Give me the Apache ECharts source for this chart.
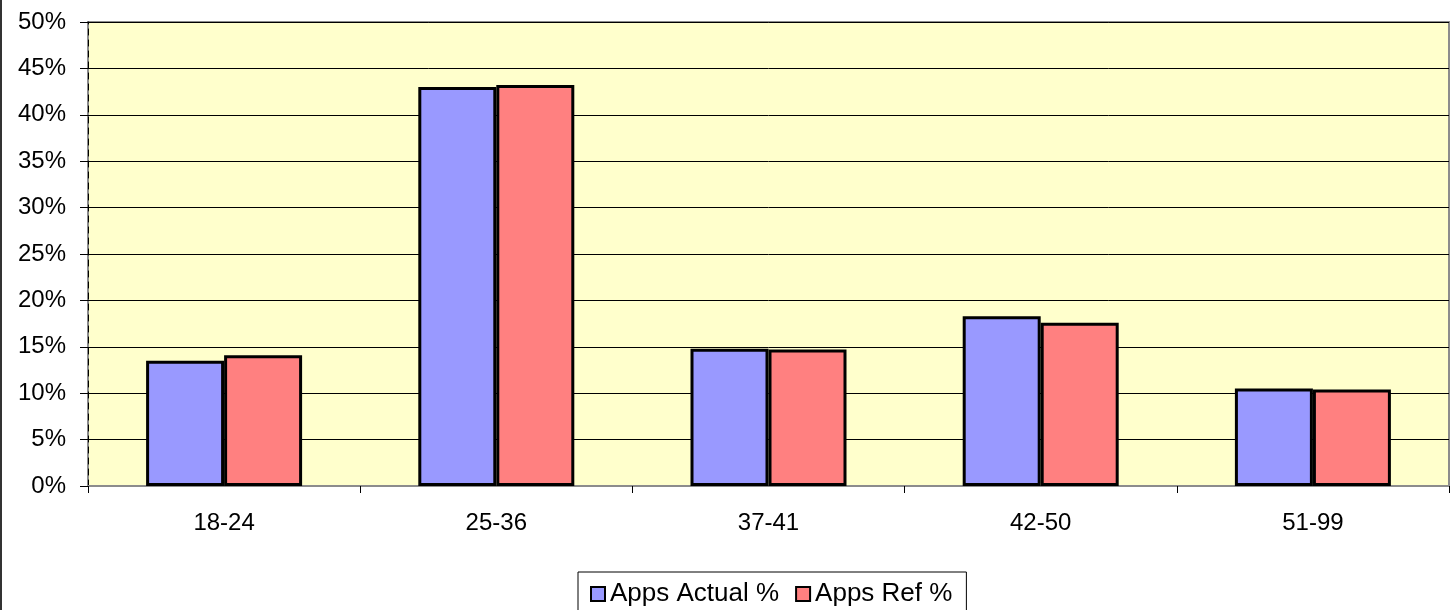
<!DOCTYPE html>
<html>
<head>
<meta charset="utf-8">
<script src="https://cdn.jsdelivr.net/npm/echarts@6/dist/echarts.min.js"></script>
<style>
html,body{margin:0;padding:0;background:#fff;}
#chart{width:1450px;height:610px;}
</style>
</head>
<body>
<div id="chart"></div>
<script>
var categories = ['18-24', '25-36', '37-41', '42-50', '51-99'];
var appsActual = [13.5, 43.0, 14.8, 18.3, 10.5];
var appsRef = [14.1, 43.2, 14.7, 17.6, 10.4];
var seriesNames = ['Apps Actual %', 'Apps Ref %'];

var chart = echarts.init(document.getElementById('chart'));
var font = 'Liberation Sans, Arial, sans-serif';
chart.setOption({
  animation: false,
  backgroundColor: '#ffffff',
  textStyle: {fontFamily: font},
  grid: {
    left: 88, right: 1, top: 22, bottom: 124,
    show: true, backgroundColor: '#FFFFCC', borderColor: '#8c8c8c', borderWidth: 2,
    containLabel: false
  },
  legend: {
    data: seriesNames,
    top: 572, left: 578,
    itemWidth: 14, itemHeight: 14, itemGap: 16,
    icon: 'rect',
    borderColor: '#000', borderWidth: 1, padding: [9, 14, 12, 12],
    textStyle: {fontSize: 26, color: '#000', fontFamily: font, padding: [0, 0, 0, 0]}
  },
  xAxis: {
    type: 'category',
    data: categories,
    axisLine: {show: true, lineStyle: {color: '#8c8c8c', width: 2}},
    axisTick: {show: true, length: 7, lineStyle: {color: '#000'}},
    axisLabel: {fontSize: 24, color: '#000', margin: 25, fontFamily: font},
    splitLine: {show: false}
  },
  yAxis: {
    type: 'value',
    min: 0, max: 50, interval: 5,
    axisLine: {show: true, lineStyle: {color: '#000', width: 1, type: [6, 5]}},
    axisTick: {show: true, length: 8, inside: false, lineStyle: {color: '#000'}},
    axisLabel: {formatter: '{value}%', fontSize: 24, color: '#000', margin: 22, fontFamily: font},
    splitLine: {show: true, lineStyle: {color: '#000', width: 1}}
  },
  series: [
    {
      name: seriesNames[0], type: 'bar', data: appsActual,
      barWidth: 78, barGap: '0%',
      itemStyle: {color: '#9999FF', borderColor: '#000', borderWidth: 3}
    },
    {
      name: seriesNames[1], type: 'bar', data: appsRef,
      barWidth: 78,
      itemStyle: {color: '#FF8080', borderColor: '#000', borderWidth: 3}
    }
  ],
  graphic: [
    {type: 'line', shape: {x1: 1, y1: 0, x2: 1, y2: 610}, style: {stroke: '#333', lineWidth: 2}}
  ]
});
</script>
</body>
</html>
